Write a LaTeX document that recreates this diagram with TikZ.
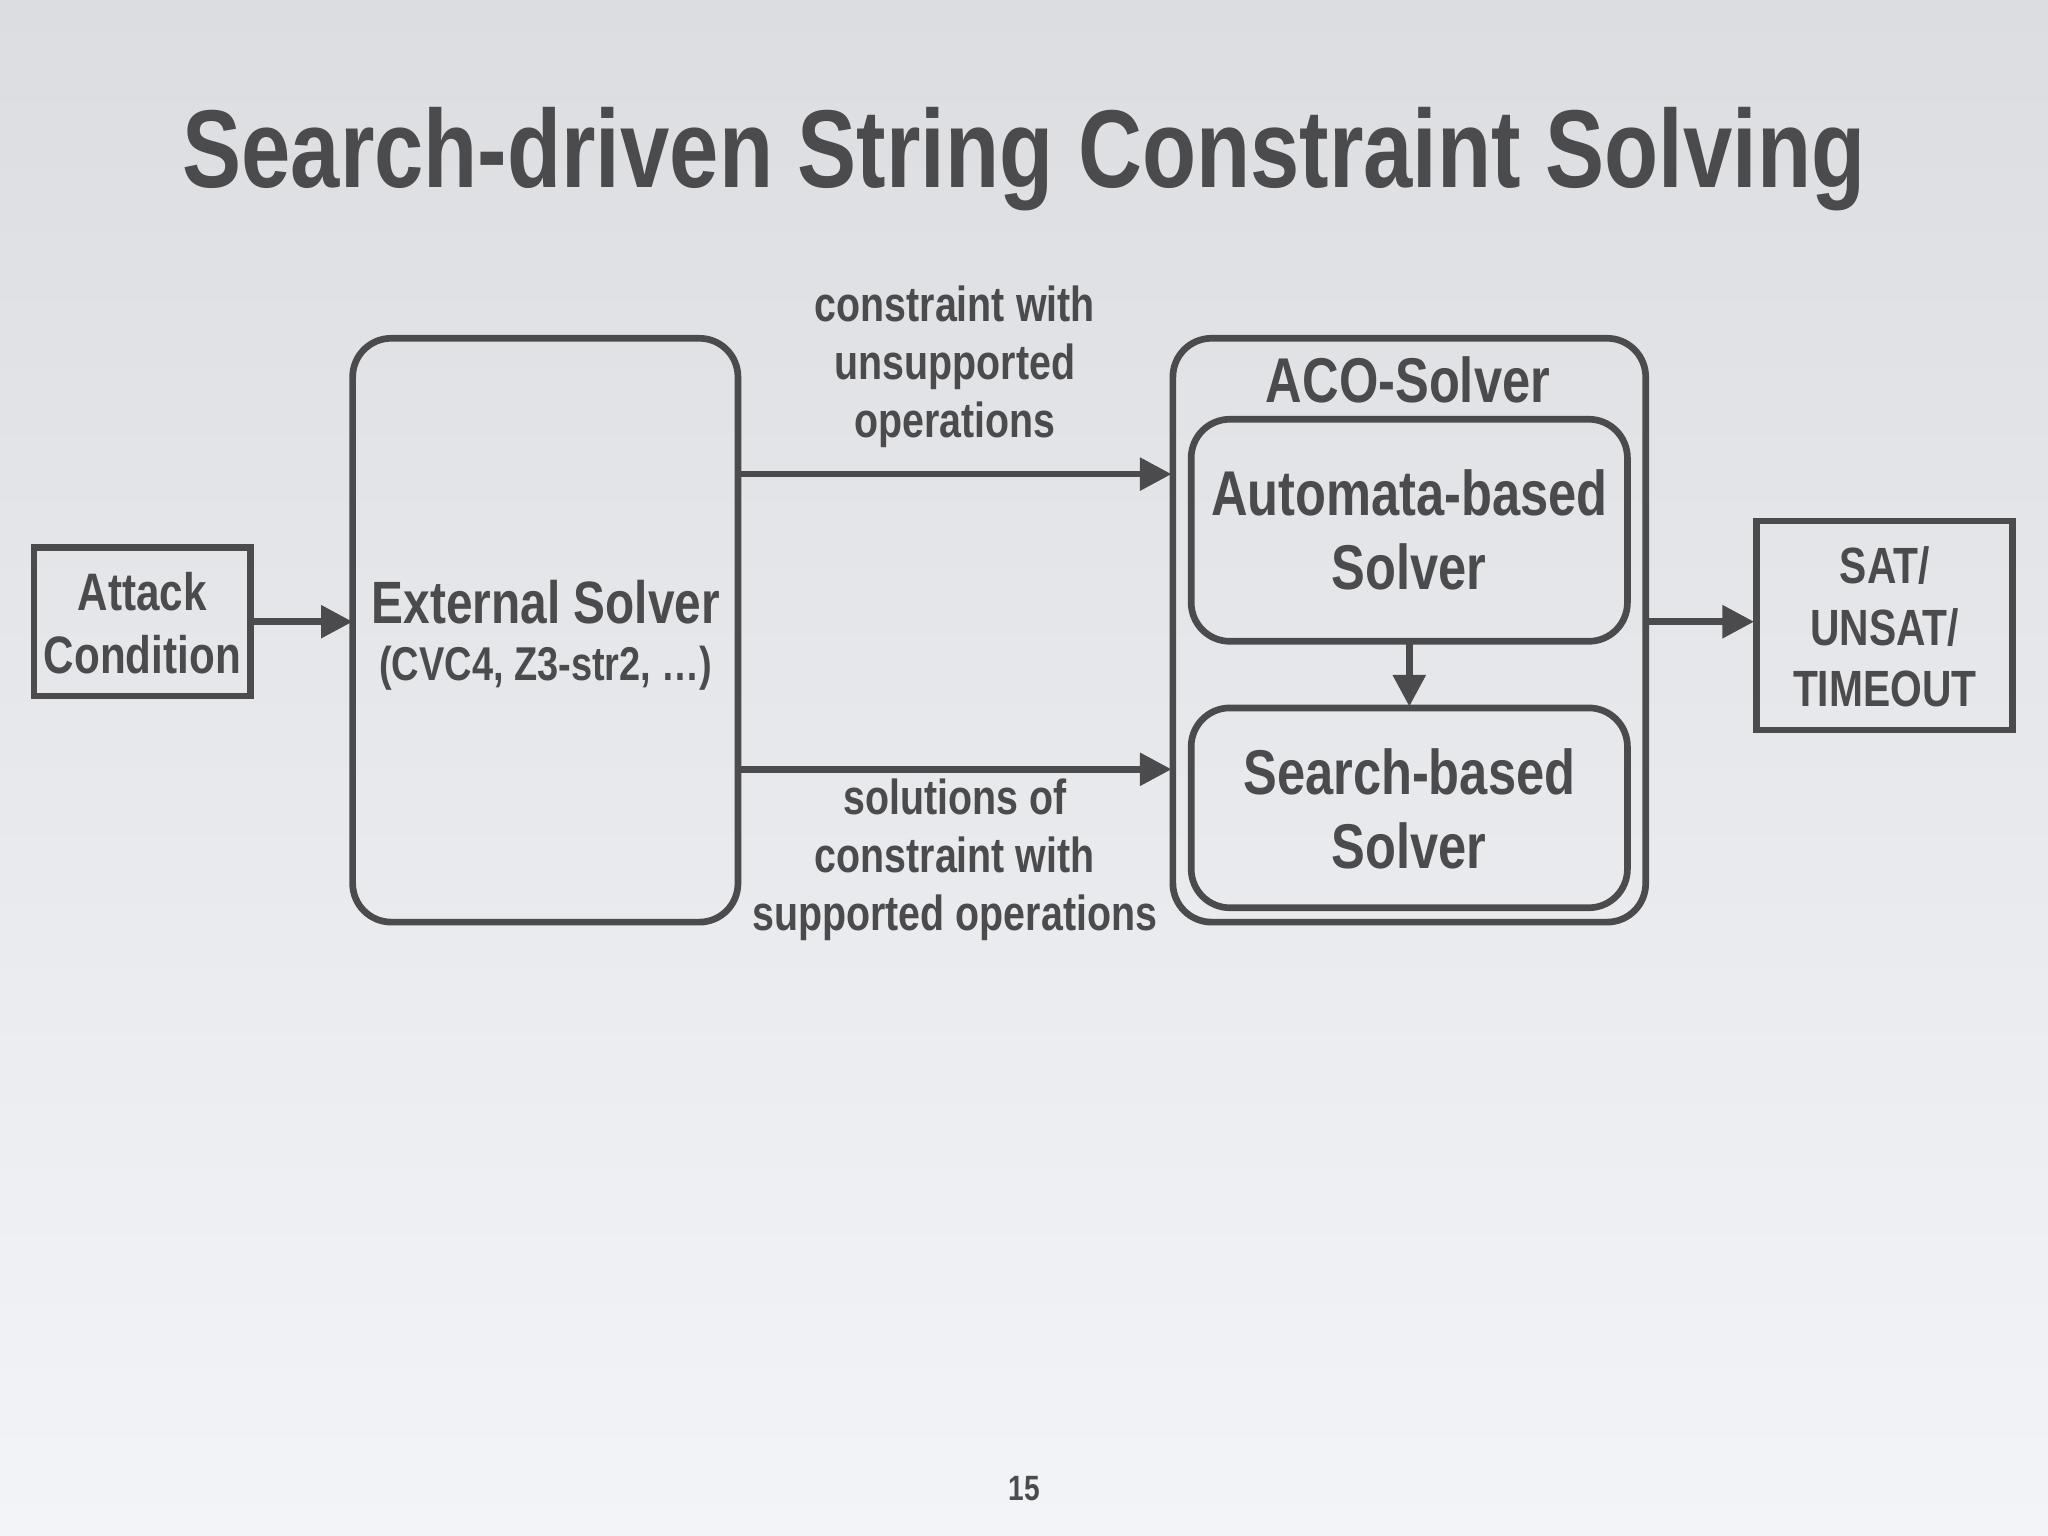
\documentclass[tikz,border=0pt]{standalone}
\usepackage{fontspec}
\setmainfont{Liberation Sans}[FakeStretch=0.8]
\usetikzlibrary{arrows.meta}
\definecolor{ink}{HTML}{4B4B4D}
\begin{document}
\begin{tikzpicture}[x=0.013061cm,y=-0.013061cm,
  font=\bfseries, text=ink,
  bx/.style={draw=ink,line width=1.9pt},
  rbx/.style={draw=ink,line width=1.9pt,rounded corners=11pt},
  arr/.style={draw=ink,line width=1.9pt,-{Triangle[length=9pt,width=9pt]}},
  big/.style={font=\fontsize{18}{21}\selectfont\bfseries,align=center},
  mid/.style={font=\fontsize{15}{18}\selectfont\bfseries,align=center},
  lab/.style={font=\fontsize{14}{16.5}\selectfont\bfseries,align=center}]
\shade[top color={rgb,255:red,220;green,221;blue,224},bottom color={rgb,255:red,243;green,244;blue,247}] (0,0) rectangle (1568,1176);
\useasboundingbox (0,0) rectangle (1568,1176);
\node (title) at (784,122) {\fontsize{31.5}{36}\selectfont\bfseries Search-driven String Constraint Solving};
\draw[bx] (26,419) rectangle (192,533);
\node[mid] (att) at (109,477) {Attack\\Condition};
\coordinate (attE) at (192,476);
\draw[rbx] (270,259) rectangle (565,706);
\coordinate (extW) at (270,476);
\node[big,font=\fontsize{17}{20}\selectfont\bfseries] (ext) at (418,461) {External Solver};
\node[font=\fontsize{13.5}{16}\selectfont\bfseries] (exts) at (418,512) {(CVC4, Z3-str2, …)};
\draw[rbx] (898,259) rectangle (1260,706);
\node[big] (aco) at (1078,291) {ACO-Solver};
\draw[rbx] (912,321) rectangle (1246,491);
\node[big] (auto) at (1079,406) {Automata-based\\Solver};
\draw[rbx] (912,542) rectangle (1246,695);
\node[big] (srch) at (1079,619) {Search-based\\Solver};
\draw[bx] (1345,399) rectangle (1541,559);
\node[mid,font=\fontsize{14.5}{17.4}\selectfont\bfseries] (sat) at (1443,480) {SAT/\\UNSAT/\\TIMEOUT};
\coordinate (t1) at (565,363); \coordinate (t2) at (897,363);
\coordinate (b1) at (565,589); \coordinate (b2) at (897,589);
\coordinate (d1) at (1079,491); \coordinate (d2) at (1079,541);
\coordinate (o1) at (1262,476); \coordinate (o2) at (1343,476);
\draw[arr] (attE) -- (extW);
\draw[arr] (t1) -- (t2);
\draw[arr] (b1) -- (b2);
\draw[arr] (d1) -- (d2);
\draw[arr] (o1) -- (o2);
\node[lab] (lt) at (731,281) {constraint with\\unsupported\\operations};
\node[lab] (lb) at (731,658) {solutions of\\constraint with\\supported operations};
\node[font=\fontsize{10}{12}\selectfont\bfseries] (pg) at (784,1140) {15};
\end{tikzpicture}
\end{document}
